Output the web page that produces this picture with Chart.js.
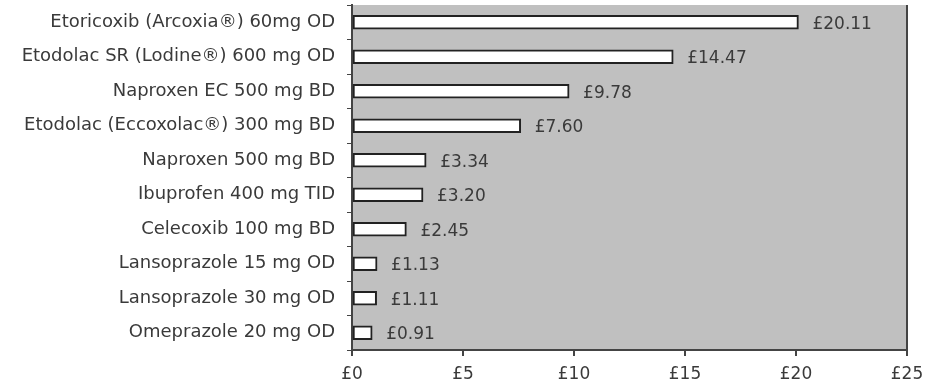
<!DOCTYPE html>
<html lang="en">
<head>
    <meta charset="UTF-8">
    <title>NSAID daily cost</title>
    <style>
        html, body { margin: 0; padding: 0; background: #fff; }
        #wrap { width: 925px; height: 381px; position: relative; }
    </style>
</head>
<body>
    <div id="wrap"><canvas id="myChart"></canvas></div>

    <script src="https://cdn.jsdelivr.net/npm/chart.js"></script>
    <script>
        // datos del grafico
        const drugs = [
            'Etoricoxib (Arcoxia®) 60mg OD',
            'Etodolac SR (Lodine®) 600 mg OD',
            'Naproxen EC 500 mg BD',
            'Etodolac (Eccoxolac®) 300 mg BD',
            'Naproxen 500 mg BD',
            'Ibuprofen 400 mg TID',
            'Celecoxib 100 mg BD',
            'Lansoprazole 15 mg OD',
            'Lansoprazole 30 mg OD',
            'Omeprazole 20 mg OD'
        ];
        const costs = [20.11, 14.47, 9.78, 7.60, 3.34, 3.20, 2.45, 1.13, 1.11, 0.91];
        const xTicks = [0, 5, 10, 15, 20, 25];

        const textColor = '#3a3a3a';
        const fontFam = '"DejaVu Sans", sans-serif';

        // fondo gris y borde derecho del area de trazado
        const plotBg = {
            id: 'plotBg',
            beforeDraw(chart) {
                const { ctx, chartArea: a } = chart;
                ctx.save();
                ctx.fillStyle = '#c0c0c0';
                ctx.fillRect(a.left, a.top, a.right - a.left, a.bottom - a.top);
                ctx.restore();
            },
            afterDraw(chart) {
                const { ctx, chartArea: a } = chart;
                ctx.save();
                ctx.strokeStyle = '#444';
                ctx.lineWidth = 2;
                ctx.beginPath();
                ctx.moveTo(a.right, a.top);
                ctx.lineTo(a.right, a.bottom);
                ctx.stroke();
                ctx.restore();
            }
        };

        // etiquetas de valor a la derecha de cada barra
        const valueLabels = {
            id: 'valueLabels',
            afterDatasetsDraw(chart) {
                const { ctx } = chart;
                const meta = chart.getDatasetMeta(0);
                ctx.save();
                ctx.fillStyle = textColor;
                ctx.font = '17px ' + fontFam;
                ctx.textBaseline = 'middle';
                meta.data.forEach((bar, i) => {
                    ctx.fillText('£' + costs[i].toFixed(2), bar.x + 14, bar.y + 2);
                });
                ctx.restore();
            }
        };

        const config = {
            type: 'bar',
            data: {
                labels: drugs,
                datasets: [{
                    data: costs,
                    backgroundColor: '#ffffff',
                    borderColor: '#222',
                    borderWidth: 2,
                    borderSkipped: false,
                    barThickness: 14
                }]
            },
            options: {
                indexAxis: 'y',
                responsive: false,
                animation: false,
                layout: { padding: { top: 5, right: 18, left: 0, bottom: 0 } },
                plugins: {
                    legend: { display: false },
                    tooltip: { enabled: false }
                },
                scales: {
                    x: {
                        min: 0,
                        max: 25,
                        afterBuildTicks(scale) {
                            scale.ticks = xTicks.map(v => ({ value: v }));
                        },
                        afterFit(scale) {
                            scale.height = 31;
                            scale.paddingLeft = 0;
                            scale.paddingRight = 0;
                        },
                        grid: {
                            drawOnChartArea: false,
                            tickLength: 6,
                            color: '#444',
                            lineWidth: 2
                        },
                        border: { color: '#444', width: 2 },
                        ticks: {
                            color: textColor,
                            font: { size: 17, family: fontFam },
                            padding: 8,
                            maxRotation: 0,
                            callback: v => '£' + v
                        }
                    },
                    y: {
                        afterFit(scale) {
                            scale.width = 352;
                            scale.paddingTop = 0;
                            scale.paddingBottom = 0;
                        },
                        grid: {
                            drawOnChartArea: false,
                            offset: true,
                            tickLength: 5,
                            color: '#444',
                            lineWidth: 1
                        },
                        border: { color: '#444', width: 2 },
                        ticks: {
                            color: textColor,
                            font: { size: 18, family: fontFam },
                            padding: 12
                        }
                    }
                }
            },
            plugins: [plotBg, valueLabels]
        };

        const canvas = document.getElementById('myChart');
        canvas.width = 925;
        canvas.height = 381;
        const myChart = new Chart(canvas, config);
    </script>
</body>
</html>
